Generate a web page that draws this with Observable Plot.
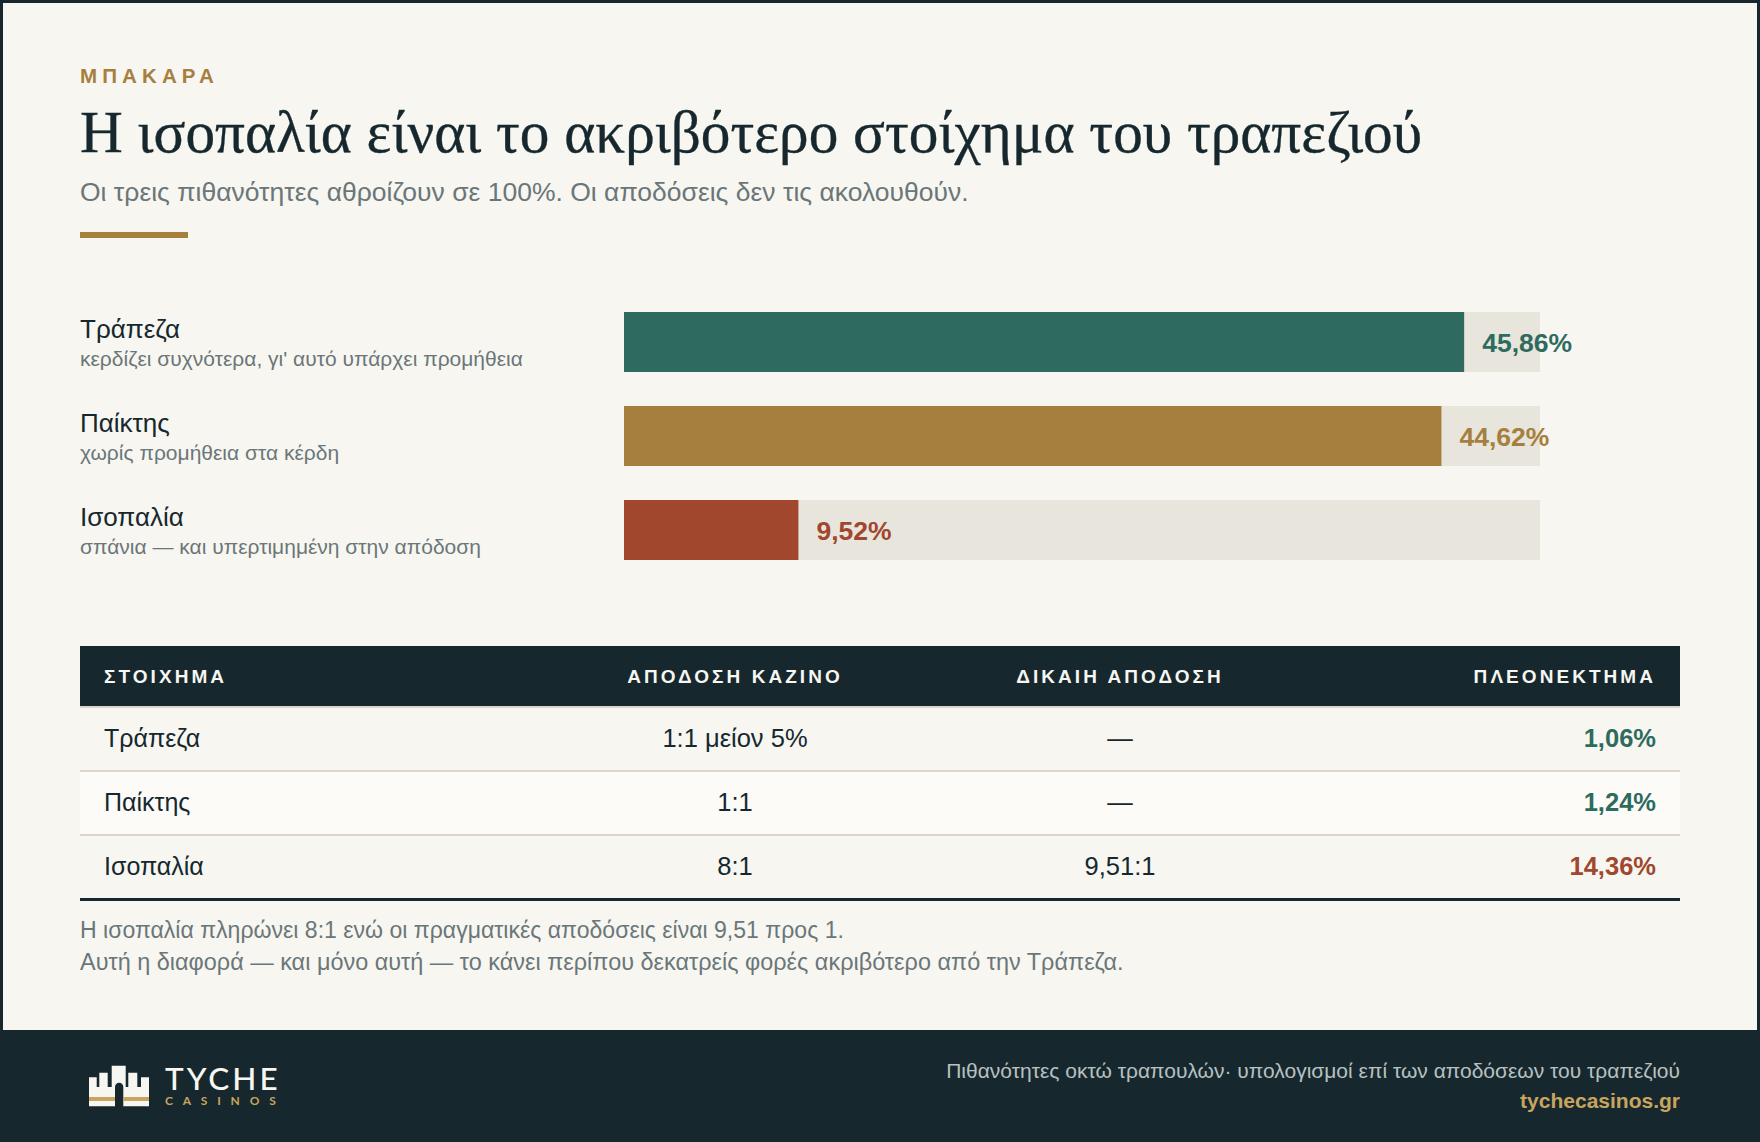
<!DOCTYPE html>
<html lang="el"><head><meta charset="utf-8">
<script src="https://cdn.jsdelivr.net/npm/d3@7"></script>
<script src="https://cdn.jsdelivr.net/npm/@observablehq/plot@0.6"></script>
<style>
html,body{margin:0;padding:0;background:#f7f6f1;}
body{width:1760px;height:1142px;overflow:hidden;font-family:"Liberation Sans",Arial,sans-serif;}
#page{position:relative;width:1760px;height:1142px;box-sizing:border-box;background:#f7f6f1;}
#frame{position:absolute;inset:0;border:solid #16282e;border-width:3px 3px 0 3px;pointer-events:none;}
.t{position:absolute;white-space:nowrap;line-height:1;}
#kicker{left:80px;top:66px;font-size:20.5px;font-weight:700;letter-spacing:5.1px;color:#a67f3f;}
#title{left:80px;top:103px;font-family:"Liberation Serif",serif;font-size:59.25px;color:#16282e;font-weight:400;margin:0;-webkit-text-stroke:0.35px #16282e;}
#sub{left:80px;top:178.500px;font-size:26.5px;color:#6b7679;}
#rule{position:absolute;left:80px;top:232px;width:108px;height:6px;background:#a67f3f;}
#chart{position:absolute;left:0;top:278px;}
#chart svg{display:block;overflow:visible;}
table{position:absolute;left:80px;top:646px;width:1600px;border-collapse:collapse;table-layout:fixed;color:#16282e;font-size:25.5px;}
th{height:58px;padding:2px 24px 0;background:#16282e;color:#f7f6f1;font-size:19px;font-weight:700;letter-spacing:3.050px;}
td{height:60px;padding:0 24px 2px;border-bottom:2px solid #ddd5ca;box-sizing:content-box;}
td.l{font-size:25px;}
thead tr{border-bottom:2px solid #ddd5ca;}
tbody tr:nth-child(2) td{background:#fcfbf8;}
tbody tr:last-child td{border-bottom:3px solid #16282e;}
.l{text-align:left}.c{text-align:center}.r{text-align:right}
td.r{font-weight:700;}
#note{left:80px;top:914px;font-size:23.45px;line-height:32px;color:#6b7679;}
#note div:first-child{font-size:23.05px;}
#footer{position:absolute;left:0;top:1030px;width:1760px;height:112px;background:#16282e;}
#src{right:80px;top:30px;position:absolute;font-size:21px;color:#b9c0c0;white-space:nowrap;line-height:1;}
#url{right:80px;top:60px;position:absolute;font-size:21px;font-weight:700;color:#c9a45f;white-space:nowrap;line-height:1;}
#logo{position:absolute;left:80px;top:20px;}
</style></head><body>
<div id="page">
  <div id="kicker" class="t"></div>
  <h1 id="title" class="t"></h1>
  <div id="sub" class="t"></div>
  <div id="rule"></div>
  <div id="chart"></div>
  <table id="tbl"><colgroup><col style="width:450px"><col style="width:410px"><col style="width:360px"><col style="width:380px"></colgroup><thead><tr></tr></thead><tbody></tbody></table>
  <div id="note" class="t"></div>
  <div id="footer">
    <svg id="logo" width="220" height="72" viewBox="0 0 220 72">
      <path fill="#f7f6f1" d="M9 27.300h7.700V37h2.600V22.700h8.400V37h4V15.700h14V37h2.600V22.700h9V37h3.700V27.300h8V56.300H43.300V36.900a4.150 4.150 0 0 0-8.300 0V56.300H9z"/>
      <rect x="9" y="47" width="26" height="4" fill="#c9a45f"/><rect x="43.300" y="47" width="25.700" height="4" fill="#c9a45f"/>
      <text x="85" y="40" font-family="Lato,'Noto Sans',sans-serif" font-size="31.500" font-weight="500" letter-spacing="3" fill="#f7f6f1">TYCHE</text>
      <text x="85" y="55" font-family="Lato,'Noto Sans',sans-serif" font-size="12" font-weight="700" letter-spacing="9.800" fill="#c9a45f">CASINOS</text>
    </svg>
    <div id="src"></div>
    <div id="url"></div>
  </div>
  <div id="frame"></div>
</div>
<script>
const kicker = "ΜΠΑΚΑΡΑ";
const titleText = "Η ισοπαλία είναι το ακριβότερο στοίχημα του τραπεζιού";
const subtitle = "Οι τρεις πιθανότητες αθροίζουν σε 100%. Οι αποδόσεις δεν τις ακολουθούν.";
const bets = ["Τράπεζα", "Παίκτης", "Ισοπαλία"];
const notes = ["κερδίζει συχνότερα, γι' αυτό υπάρχει προμήθεια", "χωρίς προμήθεια στα κέρδη", "σπάνια — και υπερτιμημένη στην απόδοση"];
const probabilities = [45.86, 44.62, 9.52];
const colors = ["#2e6b5e", "#a67f3f", "#a0472e"];
const axisMax = 50;
const headers = ["ΣΤΟΙΧΗΜΑ", "ΑΠΟΔΟΣΗ ΚΑΖΙΝΟ", "ΔΙΚΑΙΗ ΑΠΟΔΟΣΗ", "ΠΛΕΟΝΕΚΤΗΜΑ"];
const casinoOdds = ["1:1 μείον 5%", "1:1", "8:1"];
const fairOdds = ["—", "—", "9,51:1"];
const edges = ["1,06%", "1,24%", "14,36%"];
const edgeColors = ["#2e6b5e", "#2e6b5e", "#a0472e"];
const noteLines = ["Η ισοπαλία πληρώνει 8:1 ενώ οι πραγματικές αποδόσεις είναι 9,51 προς 1.", "Αυτή η διαφορά — και μόνο αυτή — το κάνει περίπου δεκατρείς φορές ακριβότερο από την Τράπεζα."];
const sourceText = "Πιθανότητες οκτώ τραπουλών· υπολογισμοί επί των αποδόσεων του τραπεζιού";
const urlText = "tychecasinos.gr";

const $ = id => document.getElementById(id);
$("kicker").textContent = kicker; $("title").textContent = titleText; $("sub").textContent = subtitle;
$("src").textContent = sourceText; $("url").textContent = urlText;
noteLines.forEach(line => { const d = document.createElement("div"); d.textContent = line; $("note").append(d); });

const rows = bets.map((bet, i) => ({bet, note: notes[i], p: probabilities[i], color: colors[i]}));
const fmt = v => v.toFixed(2).replace(".", ",") + "%";
const font = "'Liberation Sans',Arial,sans-serif";

const chart = Plot.plot({
  width: 1760, height: 316,
  marginLeft: 624, marginRight: 220, marginTop: 0, marginBottom: 0,
  style: {background: "transparent", fontFamily: font},
  x: {domain: [0, axisMax], axis: null},
  y: {domain: bets, padding: 34 / 94, axis: null},
  marks: [
    Plot.barX(rows, {x: () => axisMax, y: "bet", fill: "#e8e5dc"}),
    Plot.barX(rows, {x: "p", y: "bet", fill: "color"}),
    Plot.text(rows, {x: "p", y: "bet", text: d => fmt(d.p), fill: "color", textAnchor: "start", lineAnchor: "bottom", dx: 17.5, dy: 9, fontSize: 26.5, fontWeight: 700}),
    Plot.text(rows, {x: () => 0, y: "bet", text: "bet", fill: "#16282e", textAnchor: "start", lineAnchor: "bottom", dx: -544.5, dy: -5, fontSize: 26}),
    Plot.text(rows, {x: () => 0, y: "bet", text: "note", fill: "#6b7679", textAnchor: "start", lineAnchor: "bottom", dx: -544.5, dy: 23.5, fontSize: 21})
  ]
});
$("chart").append(chart);

const aligns = ["l", "c", "c", "r"];
const tr = document.querySelector("#tbl thead tr");
headers.forEach((h, i) => { const th = document.createElement("th"); th.className = aligns[i]; th.textContent = h; tr.append(th); });
const tb = document.querySelector("#tbl tbody");
bets.forEach((bet, i) => {
  const row = document.createElement("tr");
  [bet, casinoOdds[i], fairOdds[i], edges[i]].forEach((v, j) => {
    const td = document.createElement("td"); td.className = aligns[j]; td.textContent = v;
    if (j === 3) td.style.color = edgeColors[i];
    row.append(td);
  });
  tb.append(row);
});
</script>
</body></html>
